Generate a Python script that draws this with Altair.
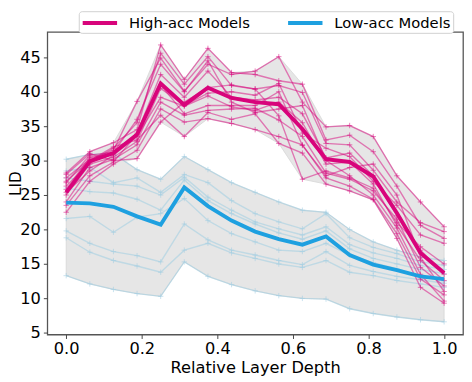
import altair as alt
import pandas as pd

depth = [0.0, 0.0625, 0.125, 0.1875, 0.25, 0.3125, 0.375, 0.4375, 0.5,
         0.5625, 0.625, 0.6875, 0.75, 0.8125, 0.875, 0.9375, 1.0]

# High-accuracy models (thin pink lines)
h01 = [27.5, 30.2, 31.5, 38.6, 44.9, 40.1, 44.0, 42.5, 43.0, 45.1, 38.5, 34.9, 35.1, 33.5, 27.8, 24.0, 20.4]
h02 = [28.2, 31.3, 32.6, 34.5, 46.8, 41.8, 46.3, 42.8, 42.5, 41.6, 41.1, 33.0, 33.7, 31.3, 26.3, 20.6, 18.7]
h03 = [26.3, 29.8, 31.8, 35.5, 45.6, 41.1, 45.1, 40.9, 40.4, 40.9, 39.9, 32.5, 32.3, 28.6, 24.0, 21.0, 19.7]
h04 = [25.8, 30.5, 31.0, 34.0, 42.5, 39.2, 43.0, 39.2, 38.8, 39.2, 36.8, 30.4, 31.1, 27.8, 22.0, 17.0, 13.5]
h05 = [25.4, 28.5, 30.8, 33.5, 39.2, 37.9, 39.4, 37.8, 37.3, 38.5, 35.5, 29.5, 29.8, 26.6, 20.6, 15.5, 12.6]
h06 = [24.0, 29.0, 30.2, 32.3, 38.5, 36.6, 37.3, 37.5, 37.6, 35.9, 33.5, 28.2, 27.3, 25.6, 21.5, 14.5, 11.8]
h07 = [22.5, 27.0, 29.5, 31.5, 37.5, 35.6, 36.1, 35.4, 34.5, 33.5, 32.3, 27.5, 26.3, 24.4, 19.4, 12.8, 10.5]
h08 = [27.0, 30.0, 32.0, 33.0, 36.6, 33.5, 37.0, 36.0, 36.8, 32.5, 31.1, 26.6, 25.6, 24.3, 18.7, 11.6, 9.3]
h09 = [28.0, 31.0, 30.0, 30.3, 35.6, 38.5, 40.6, 41.0, 40.4, 36.5, 27.3, 28.5, 27.5, 26.0, 21.0, 17.5, 15.0]
h10 = [26.8, 30.8, 31.2, 36.0, 44.0, 40.0, 44.5, 38.5, 37.0, 37.5, 38.0, 30.0, 27.8, 25.0, 20.2, 13.5, 9.6]
h11 = [25.0, 29.5, 30.5, 32.8, 40.5, 38.0, 39.8, 40.0, 39.5, 41.2, 34.0, 31.8, 30.6, 27.0, 23.5, 19.2, 18.0]
h12 = [23.5, 27.8, 29.8, 33.8, 41.0, 36.8, 38.0, 38.0, 38.0, 40.0, 32.2, 27.8, 29.0, 29.5, 25.0, 16.0, 11.0]

# Low-accuracy models (thin light-blue lines)
l01 = [30.2, 30.9, 31.0, 28.7, 27.3, 30.6, 28.7, 26.8, 25.4, 24.0, 22.8, 22.5, 20.0, 18.2, 17.0, 16.0, 15.5]
l02 = [28.5, 29.0, 26.8, 27.5, 25.4, 28.0, 26.8, 24.2, 22.3, 21.1, 20.1, 22.3, 18.8, 17.4, 16.5, 15.3, 14.8]
l03 = [27.5, 27.0, 26.6, 26.3, 25.0, 27.6, 24.7, 22.8, 21.1, 20.1, 19.2, 20.4, 17.8, 16.6, 15.8, 14.8, 14.2]
l04 = [26.0, 25.5, 25.3, 24.4, 22.8, 27.2, 24.2, 22.3, 20.8, 19.5, 18.6, 19.8, 17.2, 15.8, 15.0, 14.2, 13.6]
l05 = [21.6, 21.9, 19.6, 21.8, 22.3, 24.5, 21.3, 19.4, 18.2, 17.0, 16.8, 18.0, 16.3, 15.2, 14.3, 13.2, 12.5]
l06 = [19.8, 18.0, 16.8, 16.2, 15.3, 20.8, 18.5, 17.0, 16.3, 15.5, 14.9, 16.8, 14.8, 13.9, 13.2, 12.7, 12.2]
l07 = [18.8, 16.7, 15.5, 14.7, 13.8, 17.0, 18.0, 16.6, 15.8, 15.0, 14.5, 15.5, 13.8, 13.3, 12.6, 12.1, 11.6]
l08 = [13.3, 12.1, 11.3, 10.7, 10.3, 15.3, 13.2, 12.0, 11.1, 10.4, 10.0, 9.9, 8.5, 7.8, 7.3, 6.9, 6.6]

high_mean = [25.4, 29.9, 31.1, 33.8, 41.2, 38.1, 40.6, 39.1, 38.5, 38.2, 34.6, 30.2, 29.8, 27.7, 22.4, 16.6, 13.7]
low_mean = [23.9, 23.8, 23.3, 21.9, 20.7, 26.1, 23.4, 21.3, 19.7, 18.6, 17.8, 19.0, 16.3, 14.9, 14.1, 13.2, 12.8]

HIGH = "High-acc Models"
LOW = "Low-acc Models"
PINK = "#D8047B"
BLUE = "#1EA0E0"
LIGHTBLUE = "#9fcde2"
PLUS = "M-1,0H1M0,-1V1"
LEGEND_LINE = "M-1,0H3.375"

high_models = [h01, h02, h03, h04, h05, h06, h07, h08, h09, h10, h11, h12]
low_models = [l01, l02, l03, l04, l05, l06, l07, l08]

rows = []
for i, vals in enumerate(high_models):
    for d, v in zip(depth, vals):
        rows.append({"group": HIGH, "model": f"H{i}", "depth": d, "lid": v})
for i, vals in enumerate(low_models):
    for d, v in zip(depth, vals):
        rows.append({"group": LOW, "model": f"L{i}", "depth": d, "lid": v})
thin = pd.DataFrame(rows)

mrows = []
for d, v in zip(depth, high_mean):
    mrows.append({"group": HIGH, "depth": d, "lid": v})
for d, v in zip(depth, low_mean):
    mrows.append({"group": LOW, "depth": d, "lid": v})
means = pd.DataFrame(mrows)

xscale = alt.Scale(domain=[-0.05, 1.05], nice=False, zero=False)
yscale = alt.Scale(domain=[4.75, 48.7], nice=False, zero=False)
xaxis = alt.Axis(values=[0.0, 0.2, 0.4, 0.6, 0.8, 1.0], format=".1f", title="Relative Layer Depth")
yaxis = alt.Axis(values=[5, 10, 15, 20, 25, 30, 35, 40, 45], title="LID")

X = alt.X("depth:Q", scale=xscale, axis=xaxis)
Y = alt.Y("lid:Q", scale=yscale, axis=yaxis)

band = alt.Chart(thin).mark_area(
    fill="#e6e6e6", stroke="#d6d6d6", strokeWidth=0.8, opacity=1
).encode(
    x=X,
    y=alt.Y("min(lid):Q", scale=yscale, axis=yaxis),
    y2="max(lid):Q",
    detail="group:N",
)

def thin_layers(group, color, op):
    base = alt.Chart(thin).transform_filter(alt.datum.group == group)
    ln = base.mark_line(color=color, opacity=op, strokeWidth=1.4).encode(
        x=X, y=Y, detail="model:N")
    pt = base.mark_point(shape=PLUS, filled=False, color=color, opacity=op,
                         size=30, strokeWidth=1).encode(x=X, y=Y, detail="model:N")
    return ln + pt

low_thin = thin_layers(LOW, LIGHTBLUE, 0.55)
high_thin = thin_layers(HIGH, PINK, 0.5)

color = alt.Color(
    "group:N",
    scale=alt.Scale(domain=[HIGH, LOW], range=[PINK, BLUE]),
    legend=alt.Legend(
        title=None, orient="none", legendX=32, legendY=-21,
        direction="horizontal", symbolType=LEGEND_LINE, symbolSize=256,
        symbolStrokeWidth=4, symbolFillColor="transparent",
        labelFontSize=15, labelFont="DejaVu Sans",
        labelColor="black", labelOffset=29, columnPadding=30, padding=2,
        strokeColor="#d0d0d0", cornerRadius=3, fillColor="white",
        symbolOpacity=1,
    ),
)

low_mean_line = alt.Chart(means).transform_filter(alt.datum.group == LOW).mark_line(
    strokeWidth=4).encode(x=X, y=Y, color=color)
high_mean_line = alt.Chart(means).transform_filter(alt.datum.group == HIGH).mark_line(
    strokeWidth=4).encode(x=X, y=Y, color=color)

chart = alt.layer(
    band, low_thin, high_thin, low_mean_line, high_mean_line
).properties(
    width=423, height=308,
    padding={"left": 40, "top": 21, "right": 1, "bottom": 44},
    autosize=alt.AutoSizeParams(type="none"),
).configure_view(
    stroke="#555555", strokeWidth=1.3
).configure_axis(
    grid=False, domain=False,
    labelFont="DejaVu Sans", labelFontSize=16.5, labelColor="black",
    titleFont="DejaVu Sans", titleFontSize=16.5, titleFontWeight="normal",
    titleColor="black", tickColor="#444444", tickSize=4, labelPadding=3,
).configure_axisY(titlePadding=-4, titleFontSize=15.5).configure_axisX(titlePadding=3, labelPadding=2)

chart.save("out.html", embed_options={"renderer": "svg", "actions": False})
